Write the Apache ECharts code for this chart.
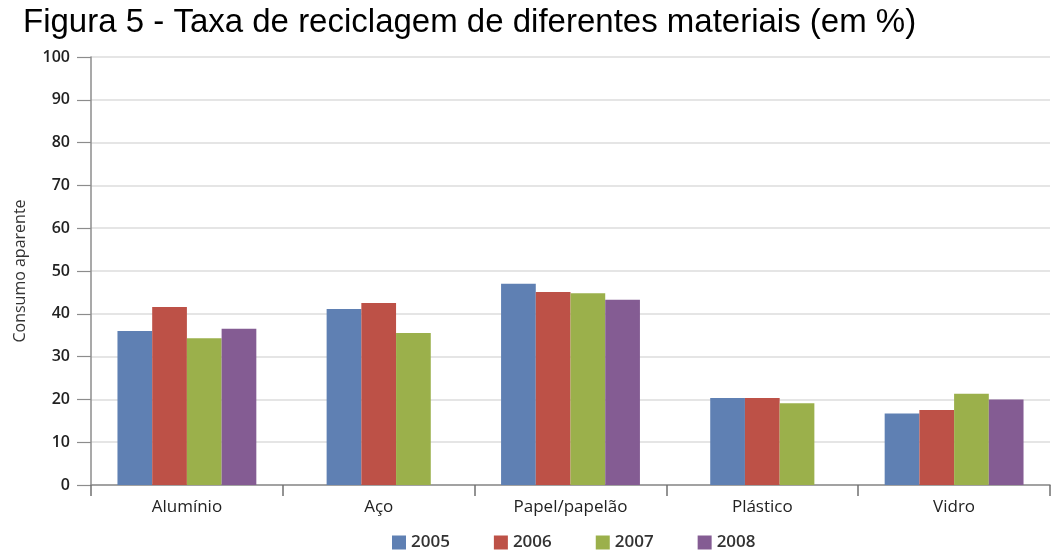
<!DOCTYPE html>
<html>
<head>
<meta charset="utf-8">
<script src="https://cdn.jsdelivr.net/npm/echarts@6/dist/echarts.min.js"></script>
<style>html,body{margin:0;padding:0;background:#fff}#c{width:1052px;height:551px}</style>
</head>
<body>
<div id="c"></div>
<script>
const titleText = 'Figura 5 - Taxa de reciclagem de diferentes materiais (em %)';
const yAxisName = 'Consumo aparente';
const categories = ['Alumínio', 'Aço', 'Papel/papelão', 'Plástico', 'Vidro'];
const years = ['2005', '2006', '2007', '2008'];
const v2005 = [36.0, 41.1, 47.0, 20.3, 16.7];
const v2006 = [41.6, 42.5, 45.1, 20.3, 17.5];
const v2007 = [34.3, 35.5, 44.8, 19.1, 21.3];
const v2008 = [36.5, null, 43.3, null, 20.0];
const yTicks = [0, 10, 20, 30, 40, 50, 60, 70, 80, 90, 100];
const colors = ['#5f80b3', '#bd5147', '#9bb04b', '#845c93'];

const allSeries = [v2005, v2006, v2007, v2008];

function makeRender(si) {
  return function (params, api) {
    const cat = api.value(0);
    const val = api.value(1);
    const present = [];
    allSeries.forEach((arr, i) => { if (arr[cat] != null) present.push(i); });
    const n = present.length;
    const k = present.indexOf(si);
    const catW = api.size([1, 0])[0];
    const bw = catW * 0.181;
    const base = api.coord([cat, 0]);
    const top = api.coord([cat, val]);
    const x = base[0] - n * bw / 2 + k * bw;
    return {
      type: 'rect',
      shape: { x: x, y: top[1], width: bw, height: base[1] - top[1] },
      style: { fill: api.visual('color') }
    };
  };
}

const series = allSeries.map((arr, si) => ({
  name: years[si],
  type: 'custom',
  renderItem: makeRender(si),
  itemStyle: { color: colors[si] },
  encode: { x: 0, y: 1 },
  data: arr.map((v, ci) => v == null ? null : [ci, v]).filter(d => d)
}));

const chart = echarts.init(document.getElementById('c'));
chart.setOption({
  animation: false,
  backgroundColor: '#ffffff',
  title: {
    text: titleText,
    left: 18,
    top: 1,
    textStyle: { fontFamily: 'Liberation Sans', fontSize: 33, fontWeight: 'normal', color: '#000' }
  },
  legend: {
    data: years,
    top: 529,
    left: 387,
    icon: 'rect',
    itemWidth: 14,
    itemHeight: 14,
    itemGap: 44,
    textStyle: { fontFamily: 'Open Sans', fontSize: 17, fontWeight: 600, color: '#333' }
  },
  grid: { left: 91, right: 2, top: 57, bottom: 66 },
  xAxis: {
    type: 'category',
    data: categories,
    boundaryGap: true,
    axisLine: { lineStyle: { color: '#8c8c8c', width: 1.5 } },
    axisTick: { show: true, length: 11, alignWithLabel: false, lineStyle: { color: '#707070', width: 1.5 } },
    axisLabel: { margin: 14, fontFamily: 'Open Sans', fontSize: 17, color: '#222' },
    splitLine: { show: false }
  },
  yAxis: {
    type: 'value',
    min: yTicks[0],
    max: yTicks[yTicks.length - 1],
    interval: 10,
    name: yAxisName,
    nameLocation: 'middle',
    nameRotate: 90,
    nameGap: 63,
    nameTextStyle: { fontFamily: 'Open Sans', fontSize: 16, color: '#333' },
    axisLine: { show: true, lineStyle: { color: '#8c8c8c', width: 1.5 } },
    axisTick: { show: true, length: 14, lineStyle: { color: '#8c8c8c', width: 1.2 } },
    axisLabel: { margin: 21, fontFamily: 'Open Sans', fontSize: 16, fontWeight: 600, color: '#222' },
    splitLine: { lineStyle: { color: '#dcdcdc', width: 1.5 } }
  },
  series: series
});
</script>
</body>
</html>
